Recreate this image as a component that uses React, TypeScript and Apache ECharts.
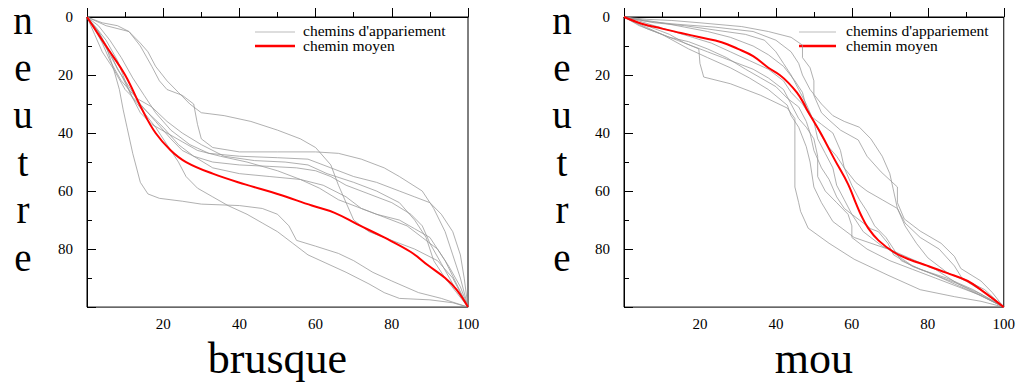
import React, { useEffect, useRef } from "react";
import * as echarts from "echarts";

// ---------- data : panel "brusque" (x) vs "neutre" (y) ----------
const brusqueMean = [[0,0],[5,10],[10,20],[14.5,32],[18,40],[22,46],[26,50],[33,54],[41.5,57.7],[50,61],[59,65],[65,67.5],[71,71.5],[78,76],[85,81],[89.5,85.6],[94,90],[97,94],[100,100]];
const brusque1 = [[0,0],[4,2],[8,3],[11,5],[14,9],[16,12],[18,17],[21,22],[24,26],[27,30],[30,33],[36,34],[43,36],[50,39],[56,42],[60,45],[64,51],[66,58],[68,64],[70,70],[74,74],[80,77],[86,80],[92,84],[96,90],[100,100]];
const brusque2 = [[0,0],[5,3],[11,5],[14,10],[17,17],[19,22],[21,25],[25,27],[28,30],[29,37],[30,42],[33,45],[40,46.5],[50,46.5],[60,46.5],[66,47],[72,49],[78,52],[82,55],[88,60],[91,66],[94,74],[96,82],[98,90],[100,100]];
const brusque3 = [[0,0],[3,5],[5,10],[7,18],[8.5,25],[9.5,32],[10.5,38],[12,47],[14,57],[16,61],[19,62.5],[25,63.5],[30,64.5],[40,65],[46,66],[50,68],[53,72],[55,77],[60,79],[66,81.5],[70,84],[75,88],[80,91],[87,95],[93,97],[100,100]];
const brusque4 = [[0,0],[3,6],[6,13],[9,20],[12,28],[15,33],[18,38],[21,44],[24,50],[26,55],[29,59],[33,62],[37,65],[42,68],[46,71],[50,74],[54,78],[58,82],[63,85],[68,88],[74,92],[78,95],[82,97],[90,97.5],[96,98.5],[100,100]];
const brusque5 = [[0,0],[3,5],[6,12],[8,18],[11,24],[14,30],[18,36],[22,42],[25,46],[28,48],[33,50],[40,51],[48,51.5],[55,52],[60,53],[64,55],[68,58],[74,61],[80,64],[85,68],[88,72],[90,78],[93,85],[96,92],[100,100]];
const brusque6 = [[0,0],[2,4],[4,9],[6,15],[9,22],[13,28],[17,31],[21,36],[25,40],[30,44],[36,48],[44,49.5],[52,50],[58,51],[63,54],[70,57],[76,60],[82,64],[86,70],[89,76],[91,84],[94,90],[97,95],[100,100]];
const brusque7 = [[0,0],[2,6],[4,12],[7,18],[10,25],[13,29],[16,33],[20,38],[24,44],[28,48],[33,52],[40,54],[48,55],[56,56],[62,58],[68,62],[72,66],[76,68],[82,70],[86,73],[90,76],[94,84],[97,92],[100,100]];
const brusque8 = [[0,0],[3,3],[6,8],[9,14],[12,21],[15,27],[18,33],[22,39],[27,44],[32,47],[40,48],[50,48.5],[58,49],[64,52],[70,55],[76,57],[82,60],[86,62],[90,64],[93,68],[96,74],[98,82],[99,90],[100,100]];
const brusque9 = [[0,0],[2,3],[5,8],[8,15],[10,22],[12,28],[14,33],[17,37],[21,40],[25,43],[29,46],[35,48],[42,50],[50,53],[56,56],[61,59],[66,63],[72,66],[78,69],[84,72],[88,76],[92,80],[95,86],[98,93],[100,100]];
const brusquePaths = [brusque1, brusque2, brusque3, brusque4, brusque5, brusque6, brusque7, brusque8, brusque9];

// ---------- data : panel "mou" (x) vs "neutre" (y) ----------
const mouMean = [[0,0],[4.7,2.3],[10,4],[15,5.5],[20,7],[25.7,8.7],[30,11],[34,13.5],[38,17.5],[41,20],[43.3,22.7],[45.5,26],[47,29],[48.4,32.5],[50,36],[52,40.5],[55.4,49],[59,57.6],[61,64],[62.5,68.5],[64.3,72.8],[67,77],[71,81],[75,83.5],[80,85.8],[85,88.2],[90.5,91],[95,95],[100,100]];
const mou1 = [[0,0],[6,0.8],[12.6,1.2],[20,2],[31,3.3],[38,5],[44,7],[47,9.7],[47,14],[49,17.5],[50,22],[50,27],[52,33],[54,35.5],[57,39],[61.7,42.4],[64,48],[67.7,53.4],[72,58.6],[72,64],[73.8,69.6],[78,73.8],[83.5,78],[87,82.5],[88.7,86.7],[94,91],[97,95],[100,100]];
const mou2 = [[0,0],[8,2],[16,3],[24,4.5],[32,6],[37,8],[40,12],[42,16],[44,20],[46,25],[48,30],[50,36],[51,42],[53,47],[55,52],[56,58],[58,63],[60,68],[63,74],[68,79],[75,83],[82,87],[88,92],[94,96],[100,100]];
const mou3 = [[0,0],[4,2],[8,4],[12,6],[16,9],[19.7,11],[20,16],[21,20.7],[28,23],[36,27],[43,31.4],[45,35],[45,39],[45,50],[45,58.6],[46,64],[46.5,67],[48.5,72.8],[54,78],[60.6,83.5],[69.5,89],[78,94],[87,96.4],[94,98],[100,100]];
const mou4 = [[0,0],[5,3],[10,6],[17,11],[22,14],[28,17.5],[33,21],[38,25],[43,30.4],[44,34],[46,38],[48,44.7],[49,50],[50,58.6],[52,64],[55,70.5],[60.6,76],[69.5,80],[76,85.8],[82,89],[87,92],[93,95.5],[100,100]];
const mou5 = [[0,0],[6,1.5],[14,2.5],[24,3.5],[34,5],[40,8],[44,12],[46,16],[47,20],[49,25],[52,30],[55,34],[58,36],[62,38],[65,42],[68,48],[70,54],[71,60],[72,66],[74,71],[78,76],[83,80],[87,85.8],[89,90],[95,94],[100,100]];
const mou6 = [[0,0],[3,2],[6,4],[10,6],[14,8],[18,10],[22,12],[26,14],[30,16],[34,18],[38,21],[42,25],[44,30],[46,35],[48,38],[50,42],[51,48],[51,55],[53,60],[56,64],[59,68],[60,72],[60,76],[64,80],[70,84],[76,87],[82,90],[88,93],[94,96],[100,100]];
const mou7 = [[0,0],[4,3],[8,5],[12,7],[17,8.5],[22,11],[27,14],[32,18],[36,21],[40,24],[43,28],[46,31],[48,36],[49,40],[50,46],[52,52],[54,56],[56,62],[58,66],[62,70],[65,73],[67,74],[69.5,78],[71,82],[76,86],[82,89],[88,92],[94,95.5],[100,100]];
const mou8 = [[0,0],[3,1],[8,3],[13,5],[18,7],[23,9],[28,12],[33,15],[38,18],[42,22],[44,26],[47,30],[49,34],[52,37],[55,40],[57,46],[58,52],[60,58],[62,63],[64,67],[66,72],[69,76],[71,80],[73,84],[78,87],[85,90],[92,94],[100,100]];
const mou9 = [[0,0],[5,1],[10,2],[16,3.5],[22,5],[28,7],[34,10],[38,13],[42,17],[45,22],[47,26],[48,31],[50,36],[52,41],[54,45],[56,48],[58,52],[61,57],[64,60],[68,63],[72,66],[74,72],[77,78],[80,83],[85,88],[90,91],[95,95],[100,100]];
const mouPaths = [mou1, mou2, mou3, mou4, mou5, mou6, mou7, mou8, mou9];

const xTitles = ["brusque", "mou"];
const yTitle = "neutre";
const legendNames = ["chemins d'appariement", "chemin moyen"];

const SERIF = "Liberation Serif";
const GRAY = "rgba(150,150,150,0.75)";
const RED = "#ff0000";

export default function App() {
  const ref = useRef<HTMLDivElement>(null);
  useEffect(() => {
    if (!ref.current) return;
    const chart = echarts.init(ref.current, undefined, { renderer: "svg" });
    const grids = [
      { left: 87, top: 17, width: 381, height: 305 },
      { left: 624, top: 17, width: 382, height: 309 },
    ];
    const xAxis = grids.map((_, i) => ({
      type: "value",
      gridIndex: i,
      min: 0,
      max: 100,
      interval: 20,
      name: xTitles[i],
      nameLocation: "middle",
      nameGap: 14,
      nameTextStyle: { fontFamily: SERIF, fontSize: 44, color: "#000", verticalAlign: "top", lineHeight: 44 },
      axisLine: { show: true, lineStyle: { color: "#000", width: 1 } },
      axisTick: { show: true, inside: true, length: 9, lineStyle: { color: "#000" } },
      minorTick: { show: true, splitNumber: 2, length: 5, lineStyle: { color: "#000" } },
      splitLine: { show: false },
      axisLabel: {
        showMinLabel: false,
        margin: 9,
        fontFamily: SERIF,
        fontSize: 15,
        color: "#000",
      },
    }));
    const yAxis = grids.map((_, i) => ({
      type: "value",
      gridIndex: i,
      min: 0,
      max: 100,
      interval: 20,
      inverse: true,
      axisLine: { show: true, lineStyle: { color: "#000", width: 1 } },
      axisTick: { show: true, inside: true, length: 9, lineStyle: { color: "#000" } },
      minorTick: { show: true, splitNumber: 2, length: 5, lineStyle: { color: "#000" } },
      splitLine: { show: false },
      axisLabel: {
        showMaxLabel: false,
        margin: 14,
        fontFamily: SERIF,
        fontSize: 15,
        color: "#000",
        padding: [4, 0, 0, 0],
      },
    }));
    const series: any[] = [];
    [brusquePaths, mouPaths].forEach((paths, gi) => {
      paths.forEach((p) =>
        series.push({
          type: "line",
          name: legendNames[0],
          xAxisIndex: gi,
          yAxisIndex: gi,
          data: p,
          showSymbol: false,
          lineStyle: { color: GRAY, width: 1 },
          z: 2,
        })
      );
    });
    [brusqueMean, mouMean].forEach((p, gi) =>
      series.push({
        type: "line",
        name: legendNames[1],
        xAxisIndex: gi,
        yAxisIndex: gi,
        data: p,
        smooth: 0.4,
        showSymbol: false,
        lineStyle: { color: RED, width: 2 },
        z: 3,
      })
    );
    const legendPos = [
      { x1: 255, x2: 295, tx: 303, y1: 31, y2: 46 },
      { x1: 799, x2: 836, tx: 846, y1: 31, y2: 46 },
    ];
    const graphic: any[] = [];
    legendPos.forEach((l) => {
      graphic.push(
        { type: "line", shape: { x1: l.x1, y1: l.y1 + 1, x2: l.x2, y2: l.y1 + 1 }, style: { stroke: "#bbbbbb", lineWidth: 1 } },
        { type: "line", shape: { x1: l.x1, y1: l.y2, x2: l.x2, y2: l.y2 }, style: { stroke: RED, lineWidth: 2.5 } },
        { type: "text", x: l.tx, y: l.y1 - 1, style: { text: legendNames[0], fontFamily: SERIF, fontSize: 15.5, lineHeight: 13, fill: "#000", verticalAlign: "middle" } },
        { type: "text", x: l.tx, y: l.y2 - 1, style: { text: legendNames[1], fontFamily: SERIF, fontSize: 15.5, lineHeight: 13, fill: "#000", verticalAlign: "middle" } }
      );
    });
    const letters = yTitle.split("");
    [23, 562].forEach((x) =>
      letters.forEach((ch, k) =>
        graphic.push({
          type: "text",
          x,
          y: 35 + k * 47.4,
          style: {
            text: ch,
            fontFamily: SERIF,
            fontSize: 39,
            lineHeight: 30,
            fill: "#000",
            align: "center",
            verticalAlign: "bottom",
          },
        })
      )
    );
    chart.setOption({
      animation: false,
      grid: grids.map((g) => ({ ...g, show: true, borderColor: "#000", borderWidth: 1, backgroundColor: "transparent" })),
      xAxis,
      yAxis,
      series,
      graphic,
    });
    return () => chart.dispose();
  }, []);
  return (
    <div
      ref={ref}
      style={{ position: "fixed", left: 0, top: 0, width: 1018, height: 385, background: "#fff" }}
    />
  );
}
